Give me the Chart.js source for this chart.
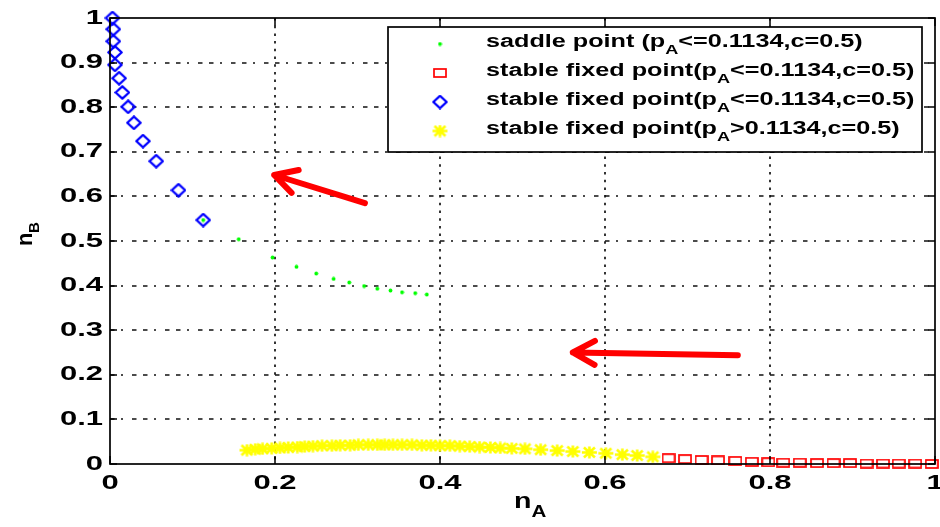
<!DOCTYPE html>
<html>
<head>
<meta charset="utf-8">
<script src="https://cdn.jsdelivr.net/npm/chart.js@4"></script>
<style>
  html, body { margin: 0; padding: 0; background: #fff; }
  canvas { display: block; }
</style>
</head>
<body>
<canvas id="phase" width="940" height="527"></canvas>
<script>
// saddle points (pA <= 0.1134, c = 0.5)
const saddleX = [0.113, 0.156, 0.197, 0.226, 0.250, 0.271, 0.290, 0.308, 0.324, 0.340, 0.354, 0.370, 0.384]
const saddleY = [0.547, 0.504, 0.463, 0.442, 0.427, 0.415, 0.407, 0.399, 0.393, 0.389, 0.385, 0.383, 0.380]

// stable fixed points, lower branch (pA <= 0.1134)
const squareX = [0.677, 0.697, 0.717, 0.737, 0.758, 0.778, 0.798, 0.816, 0.836, 0.857, 0.877, 0.897, 0.917, 0.937, 0.956, 0.976, 0.996]
const squareY = [0.013, 0.011, 0.009, 0.008, 0.007, 0.005, 0.004, 0.003, 0.003, 0.002, 0.002, 0.002, 0.001, 0.001, 0.001, 0.001, 0.000]

// stable fixed points, upper branch (pA <= 0.1134)
const diamondX = [0.003, 0.004, 0.004, 0.006, 0.006, 0.011, 0.015, 0.022, 0.029, 0.040, 0.056, 0.083, 0.113]
const diamondY = [1.000, 0.975, 0.948, 0.923, 0.895, 0.865, 0.833, 0.801, 0.765, 0.724, 0.679, 0.614, 0.547]

// stable fixed points (pA > 0.1134)
const starX = [0.166, 0.176, 0.185, 0.196, 0.206, 0.216, 0.227, 0.236, 0.246, 0.257, 0.269, 0.279, 0.291,
  0.301, 0.313, 0.324, 0.333, 0.343, 0.354, 0.366, 0.378, 0.389, 0.400, 0.412, 0.424, 0.436, 0.448,
  0.461, 0.473, 0.487, 0.503, 0.522, 0.542, 0.561, 0.581, 0.601, 0.621, 0.639, 0.658]
const starY = [0.031, 0.033, 0.034, 0.035, 0.036, 0.037, 0.038, 0.039, 0.040, 0.041, 0.041, 0.042, 0.042,
  0.043, 0.043, 0.043, 0.043, 0.043, 0.043, 0.043, 0.042, 0.042, 0.041, 0.041, 0.040, 0.039, 0.038,
  0.037, 0.036, 0.035, 0.034, 0.032, 0.030, 0.028, 0.026, 0.024, 0.021, 0.019, 0.016]

const xTicks = [0, 0.2, 0.4, 0.6, 0.8, 1]
const xTickLabels = ['0', '0.2', '0.4', '0.6', '0.8', '1']
const yTicks = [0, 0.1, 0.2, 0.3, 0.4, 0.5, 0.6, 0.7, 0.8, 0.9, 1]
const yTickLabels = ['0', '0.1', '0.2', '0.3', '0.4', '0.5', '0.6', '0.7', '0.8', '0.9', '1']

// legend text: [before subscript, subscript, after subscript]
const legendLabels = [
  ['saddle point (p', 'A', '<=0.1134,c=0.5)'],
  ['stable fixed point(p', 'A', '<=0.1134,c=0.5)'],
  ['stable fixed point(p', 'A', '<=0.1134,c=0.5)'],
  ['stable fixed point(p', 'A', '>0.1134,c=0.5)']
]

// arrows as [tailX, tailY, tipX, tipY] in data units
const arrows = [
  [0.309, 0.585, 0.199, 0.648],
  [0.761, 0.244, 0.561, 0.250]
]

const FONT = '"Liberation Sans", Arial, sans-serif'

function toPoints(xs, ys) {
  return xs.map((x, i) => ({ x: x, y: ys[i] }))
}

function makeMarker(w, h, draw) {
  const c = document.createElement('canvas')
  c.width = w
  c.height = h
  draw(c.getContext('2d'), w, h)
  return c
}

const squareMarker = makeMarker(14, 10, (g, w, h) => {
  g.strokeStyle = '#ff0000'
  g.lineWidth = 1.7
  g.strokeRect(1, 1, w - 2, h - 2)
})

const diamondMarker = makeMarker(16, 15, (g, w, h) => {
  g.strokeStyle = '#0000ff'
  g.lineWidth = 2.3
  g.lineJoin = 'round'
  g.beginPath()
  g.moveTo(w / 2, 1.3)
  g.lineTo(w - 1.3, h / 2)
  g.lineTo(w / 2, h - 1.3)
  g.lineTo(1.3, h / 2)
  g.closePath()
  g.stroke()
})

const starMarker = makeMarker(17, 13, (g, w, h) => {
  g.strokeStyle = '#ffff00'
  g.lineWidth = 2.6
  g.beginPath()
  g.moveTo(1, h / 2); g.lineTo(w - 1, h / 2)
  g.moveTo(w / 2, 0.5); g.lineTo(w / 2, h - 0.5)
  g.moveTo(3, 1.5); g.lineTo(w - 3, h - 1.5)
  g.moveTo(w - 3, 1.5); g.lineTo(3, h - 1.5)
  g.stroke()
})

const dotMarker = makeMarker(5, 5, (g) => {
  g.fillStyle = '#00ff00'
  g.beginPath()
  g.arc(2.5, 2.5, 1.9, 0, Math.PI * 2)
  g.fill()
})

// bold text stretched sideways by sx
function wideText(ctx, str, x, y, size, align, sx) {
  ctx.save()
  ctx.font = 'bold ' + size + 'px ' + FONT
  ctx.textBaseline = 'middle'
  ctx.textAlign = 'left'
  const w = ctx.measureText(str).width * sx
  let left = x
  if (align === 'center') left = x - w / 2
  else if (align === 'right') left = x - w
  ctx.translate(left, y)
  ctx.scale(sx, 1)
  ctx.fillStyle = '#000'
  ctx.fillText(str, 0, 0)
  ctx.restore()
  return w
}

// main text followed by a lowered, smaller subscript and more text
function subText(ctx, parts, x, y, size, sx) {
  let cx = x
  cx += wideText(ctx, parts[0], cx, y, size, 'left', sx)
  cx += wideText(ctx, parts[1], cx, y + size * 0.5, size * 0.72, 'left', sx)
  if (parts[2]) cx += wideText(ctx, parts[2], cx, y, size, 'left', sx)
  return cx - x
}

function drawArrow(ctx, x0, y0, x1, y1) {
  const ang = Math.atan2(y1 - y0, x1 - x0)
  const arm = 25, spread = 0.5
  ctx.save()
  ctx.strokeStyle = '#ff0000'
  ctx.lineWidth = 6
  ctx.lineCap = 'round'
  ctx.lineJoin = 'round'
  ctx.beginPath()
  ctx.moveTo(x0, y0)
  ctx.lineTo(x1, y1)
  ctx.moveTo(x1 - arm * Math.cos(ang - spread), y1 - arm * Math.sin(ang - spread))
  ctx.lineTo(x1, y1)
  ctx.lineTo(x1 - arm * Math.cos(ang + spread), y1 - arm * Math.sin(ang + spread))
  ctx.stroke()
  ctx.restore()
}

// dotted grid inside the axes, skipping the box edges
const dottedGrid = {
  id: 'dottedGrid',
  beforeDatasetsDraw(chart) {
    const ctx = chart.ctx
    const a = chart.chartArea
    const xs = chart.scales.x
    const ys = chart.scales.y
    ctx.save()
    ctx.strokeStyle = '#111'
    ctx.lineWidth = 1.7
    ctx.setLineDash([2.5, 5.2])
    ctx.beginPath()
    xTicks.slice(1, -1).forEach(v => {
      const px = Math.round(xs.getPixelForValue(v))
      ctx.moveTo(px, a.top)
      ctx.lineTo(px, a.bottom)
    })
    ctx.stroke()
    ctx.setLineDash([4.5, 6.5, 2, 9, 4.5, 6.5])
    ctx.beginPath()
    yTicks.slice(1, -1).forEach(v => {
      const py = Math.round(ys.getPixelForValue(v))
      ctx.moveTo(a.left, py)
      ctx.lineTo(a.right, py)
    })
    ctx.stroke()
    ctx.restore()
  }
}

const frame = {
  id: 'frame',
  afterDraw(chart) {
    const ctx = chart.ctx
    const a = chart.chartArea
    const xs = chart.scales.x
    const ys = chart.scales.y

    // arrows
    arrows.forEach(ar => {
      drawArrow(ctx, xs.getPixelForValue(ar[0]), ys.getPixelForValue(ar[1]),
        xs.getPixelForValue(ar[2]), ys.getPixelForValue(ar[3]))
    })

    // axes box with inward ticks
    ctx.save()
    ctx.strokeStyle = '#000'
    ctx.lineWidth = 1.7
    ctx.strokeRect(a.left, a.top, a.right - a.left, a.bottom - a.top)
    ctx.lineWidth = 1.5
    ctx.beginPath()
    xTicks.forEach(v => {
      const px = Math.round(xs.getPixelForValue(v))
      ctx.moveTo(px, a.bottom); ctx.lineTo(px, a.bottom - 8)
      ctx.moveTo(px, a.top); ctx.lineTo(px, a.top + 8)
    })
    yTicks.forEach(v => {
      const py = Math.round(ys.getPixelForValue(v))
      ctx.moveTo(a.left, py); ctx.lineTo(a.left + 7, py)
      ctx.moveTo(a.right, py); ctx.lineTo(a.right - 7, py)
    })
    ctx.stroke()
    ctx.restore()

    // tick labels
    xTicks.forEach((v, i) => {
      wideText(ctx, xTickLabels[i], xs.getPixelForValue(v), a.bottom + 19, 20, 'center', 1.55)
    })
    yTicks.forEach((v, i) => {
      wideText(ctx, yTickLabels[i], a.left - 7, ys.getPixelForValue(v), 20, 'right', 1.55)
    })

    // axis titles
    subText(ctx, ['n', 'A'], 514, 502, 22, 1.3)
    ctx.save()
    ctx.translate(26, 246)
    ctx.rotate(-Math.PI / 2)
    ctx.font = 'bold 22px ' + FONT
    ctx.fillStyle = '#000'
    ctx.textBaseline = 'middle'
    ctx.fillText('n', 0, 0)
    ctx.font = 'bold 15px ' + FONT
    ctx.fillText('B', 13, 9)
    ctx.restore()

    // legend
    const lx = 388, ly = 27, lw = 534, lh = 125
    ctx.save()
    ctx.fillStyle = '#fff'
    ctx.fillRect(lx, ly, lw, lh)
    ctx.strokeStyle = '#000'
    ctx.lineWidth = 1.7
    ctx.strokeRect(lx, ly, lw, lh)
    ctx.restore()
    const marks = [dotMarker, squareMarker, diamondMarker, starMarker]
    legendLabels.forEach((parts, i) => {
      const ry = ly + 15 + i * 29
      const m = marks[i]
      ctx.drawImage(m, 440 - m.width / 2, ry - m.height / 2 + 2)
      subText(ctx, parts, 486, ry, 17.5, 1.44)
    })
  }
}

new Chart(document.getElementById('phase'), {
  type: 'scatter',
  data: {
    datasets: [
      { label: 'saddle', data: toPoints(saddleX, saddleY), pointStyle: dotMarker, clip: false },
      { label: 'square', data: toPoints(squareX, squareY), pointStyle: squareMarker, clip: false },
      { label: 'diamond', data: toPoints(diamondX, diamondY), pointStyle: diamondMarker, clip: false },
      { label: 'star', data: toPoints(starX, starY), pointStyle: starMarker, clip: false }
    ]
  },
  options: {
    responsive: false,
    animation: false,
    devicePixelRatio: 1,
    layout: { padding: { top: 18, right: 5, left: 0, bottom: 0 } },
    plugins: { legend: { display: false }, tooltip: { enabled: false } },
    scales: {
      x: {
        type: 'linear', min: 0, max: 1,
        ticks: { display: false, stepSize: 0.2 },
        grid: { display: false },
        border: { display: false },
        afterFit: s => { s.height = 63 }
      },
      y: {
        type: 'linear', min: 0, max: 1,
        ticks: { display: false, stepSize: 0.1 },
        grid: { display: false },
        border: { display: false },
        afterFit: s => { s.width = 110 }
      }
    }
  },
  plugins: [dottedGrid, frame]
})
</script>
</body>
</html>
